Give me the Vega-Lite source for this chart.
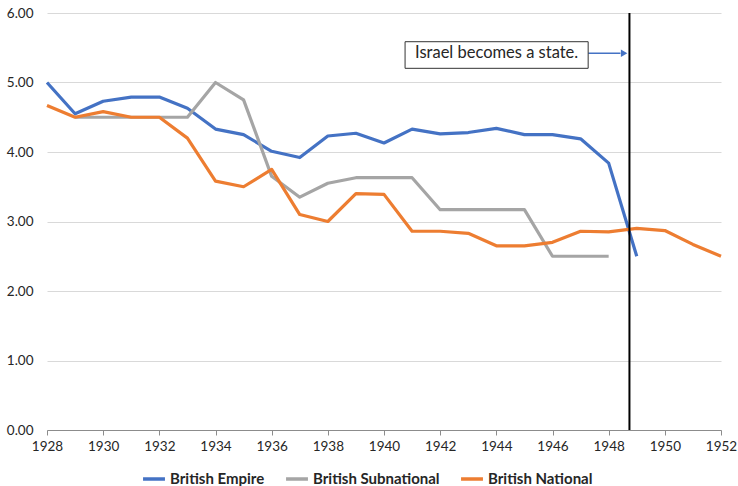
{
  "$schema": "https://vega.github.io/schema/vega-lite/v6.json",
  "width": 674,
  "height": 417,
  "autosize": {"type": "none"},
  "padding": {"left": 47, "top": 13, "right": 17, "bottom": 56},
  "background": "white",
  "config": {
    "view": {"stroke": null},
    "font": "Lato",
    "axis": {"labelFont": "Lato", "labelFontSize": 13.5, "labelColor": "#262626"}
  },
  "datasets": {
    "series": [
      {"year": 1928, "series": "British Empire", "value": 5.00},
      {"year": 1929, "series": "British Empire", "value": 4.55},
      {"year": 1930, "series": "British Empire", "value": 4.73},
      {"year": 1931, "series": "British Empire", "value": 4.79},
      {"year": 1932, "series": "British Empire", "value": 4.79},
      {"year": 1933, "series": "British Empire", "value": 4.63},
      {"year": 1934, "series": "British Empire", "value": 4.33},
      {"year": 1935, "series": "British Empire", "value": 4.25},
      {"year": 1936, "series": "British Empire", "value": 4.01},
      {"year": 1937, "series": "British Empire", "value": 3.92},
      {"year": 1938, "series": "British Empire", "value": 4.23},
      {"year": 1939, "series": "British Empire", "value": 4.27},
      {"year": 1940, "series": "British Empire", "value": 4.13},
      {"year": 1941, "series": "British Empire", "value": 4.33},
      {"year": 1942, "series": "British Empire", "value": 4.26},
      {"year": 1943, "series": "British Empire", "value": 4.28},
      {"year": 1944, "series": "British Empire", "value": 4.34},
      {"year": 1945, "series": "British Empire", "value": 4.25},
      {"year": 1946, "series": "British Empire", "value": 4.25},
      {"year": 1947, "series": "British Empire", "value": 4.19},
      {"year": 1948, "series": "British Empire", "value": 3.84},
      {"year": 1949, "series": "British Empire", "value": 2.50},
      {"year": 1929, "series": "British Subnational", "value": 4.50},
      {"year": 1930, "series": "British Subnational", "value": 4.50},
      {"year": 1931, "series": "British Subnational", "value": 4.50},
      {"year": 1932, "series": "British Subnational", "value": 4.50},
      {"year": 1933, "series": "British Subnational", "value": 4.50},
      {"year": 1934, "series": "British Subnational", "value": 5.00},
      {"year": 1935, "series": "British Subnational", "value": 4.75},
      {"year": 1936, "series": "British Subnational", "value": 3.65},
      {"year": 1937, "series": "British Subnational", "value": 3.35},
      {"year": 1938, "series": "British Subnational", "value": 3.55},
      {"year": 1939, "series": "British Subnational", "value": 3.63},
      {"year": 1940, "series": "British Subnational", "value": 3.63},
      {"year": 1941, "series": "British Subnational", "value": 3.63},
      {"year": 1942, "series": "British Subnational", "value": 3.17},
      {"year": 1943, "series": "British Subnational", "value": 3.17},
      {"year": 1944, "series": "British Subnational", "value": 3.17},
      {"year": 1945, "series": "British Subnational", "value": 3.17},
      {"year": 1946, "series": "British Subnational", "value": 2.50},
      {"year": 1947, "series": "British Subnational", "value": 2.50},
      {"year": 1948, "series": "British Subnational", "value": 2.50},
      {"year": 1928, "series": "British National", "value": 4.67},
      {"year": 1929, "series": "British National", "value": 4.50},
      {"year": 1930, "series": "British National", "value": 4.58},
      {"year": 1931, "series": "British National", "value": 4.50},
      {"year": 1932, "series": "British National", "value": 4.50},
      {"year": 1933, "series": "British National", "value": 4.20},
      {"year": 1934, "series": "British National", "value": 3.58},
      {"year": 1935, "series": "British National", "value": 3.50},
      {"year": 1936, "series": "British National", "value": 3.75},
      {"year": 1937, "series": "British National", "value": 3.10},
      {"year": 1938, "series": "British National", "value": 3.00},
      {"year": 1939, "series": "British National", "value": 3.40},
      {"year": 1940, "series": "British National", "value": 3.39},
      {"year": 1941, "series": "British National", "value": 2.86},
      {"year": 1942, "series": "British National", "value": 2.86},
      {"year": 1943, "series": "British National", "value": 2.83},
      {"year": 1944, "series": "British National", "value": 2.65},
      {"year": 1945, "series": "British National", "value": 2.65},
      {"year": 1946, "series": "British National", "value": 2.70},
      {"year": 1947, "series": "British National", "value": 2.86},
      {"year": 1948, "series": "British National", "value": 2.85},
      {"year": 1949, "series": "British National", "value": 2.90},
      {"year": 1950, "series": "British National", "value": 2.87},
      {"year": 1951, "series": "British National", "value": 2.67},
      {"year": 1952, "series": "British National", "value": 2.50}
    ],
    "event": [{"year": 1948.74, "label": "Israel becomes a state.", "boxLeft": 1940.75, "boxRight": 1947.27, "boxTop": 5.587, "boxBottom": 5.204, "arrowY": 5.42, "arrowEnd": 1948.42, "headX": 1948.55, "textX": 1944.01}]
  },
  "layer": [
    {
      "data": {"name": "series"},
      "mark": {"type": "line", "strokeWidth": 3.2, "strokeJoin": "round", "strokeCap": "butt"},
      "encoding": {
        "x": {
          "field": "year", "type": "quantitative",
          "scale": {"domain": [1928, 1952], "nice": false, "zero": false},
          "axis": {
            "title": null, "values": [1928, 1930, 1932, 1934, 1936, 1938, 1940, 1942, 1944, 1946, 1948, 1950, 1952],
            "format": "d", "grid": false, "domainColor": "#8c8c8c", "domainWidth": 1,
            "tickColor": "#8c8c8c", "tickSize": 5, "labelPadding": 4, "labelFlush": false
          }
        },
        "y": {
          "field": "value", "type": "quantitative",
          "scale": {"domain": [0, 6], "nice": false},
          "axis": {
            "title": null, "values": [0, 1, 2, 3, 4, 5, 6], "format": ".2f",
            "domain": false, "ticks": false, "labelPadding": 14,
            "gridColor": "#d9d9d9", "gridWidth": 1
          }
        },
        "color": {
          "field": "series", "type": "nominal",
          "scale": {
            "domain": ["British Empire", "British Subnational", "British National"],
            "range": ["#4472C4", "#A5A5A5", "#ED7D31"]
          },
          "legend": {
            "title": null, "orient": "none", "direction": "horizontal",
            "legendX": 94, "legendY": 453,
            "symbolType": "stroke", "symbolStrokeWidth": 3.5, "symbolSize": 480,
            "labelFont": "Lato", "labelFontSize": 15, "labelFontWeight": "bold", "labelColor": "#262626",
            "columnPadding": 14, "symbolOffset": 0, "labelOffset": 3
          }
        }
      }
    },
    {
      "data": {"name": "event"},
      "mark": {"type": "rule", "color": "black", "strokeWidth": 2},
      "encoding": {
        "x": {"field": "year", "type": "quantitative"},
        "y": {"datum": 0},
        "y2": {"datum": 6}
      }
    },
    {
      "data": {"name": "event"},
      "mark": {"type": "rule", "color": "#4472C4", "strokeWidth": 1.5},
      "encoding": {
        "x": {"field": "boxRight", "type": "quantitative"},
        "x2": {"field": "arrowEnd"},
        "y": {"field": "arrowY", "type": "quantitative"}
      }
    },
    {
      "data": {"name": "event"},
      "mark": {"type": "point", "shape": "triangle-right", "filled": true, "color": "#4472C4", "size": 55, "opacity": 1},
      "encoding": {
        "x": {"field": "headX", "type": "quantitative"},
        "y": {"field": "arrowY", "type": "quantitative"}
      }
    },
    {
      "data": {"name": "event"},
      "mark": {"type": "rect", "fill": "white", "stroke": "#333333", "strokeWidth": 1},
      "encoding": {
        "x": {"field": "boxLeft", "type": "quantitative"},
        "x2": {"field": "boxRight"},
        "y": {"field": "boxTop", "type": "quantitative"},
        "y2": {"field": "boxBottom"}
      }
    },
    {
      "data": {"name": "event"},
      "mark": {"type": "text", "font": "Lato", "fontSize": 16.5, "color": "#262626", "align": "center", "baseline": "middle"},
      "encoding": {
        "x": {"field": "textX", "type": "quantitative"},
        "y": {"field": "arrowY", "type": "quantitative"},
        "text": {"field": "label"}
      }
    }
  ]
}
